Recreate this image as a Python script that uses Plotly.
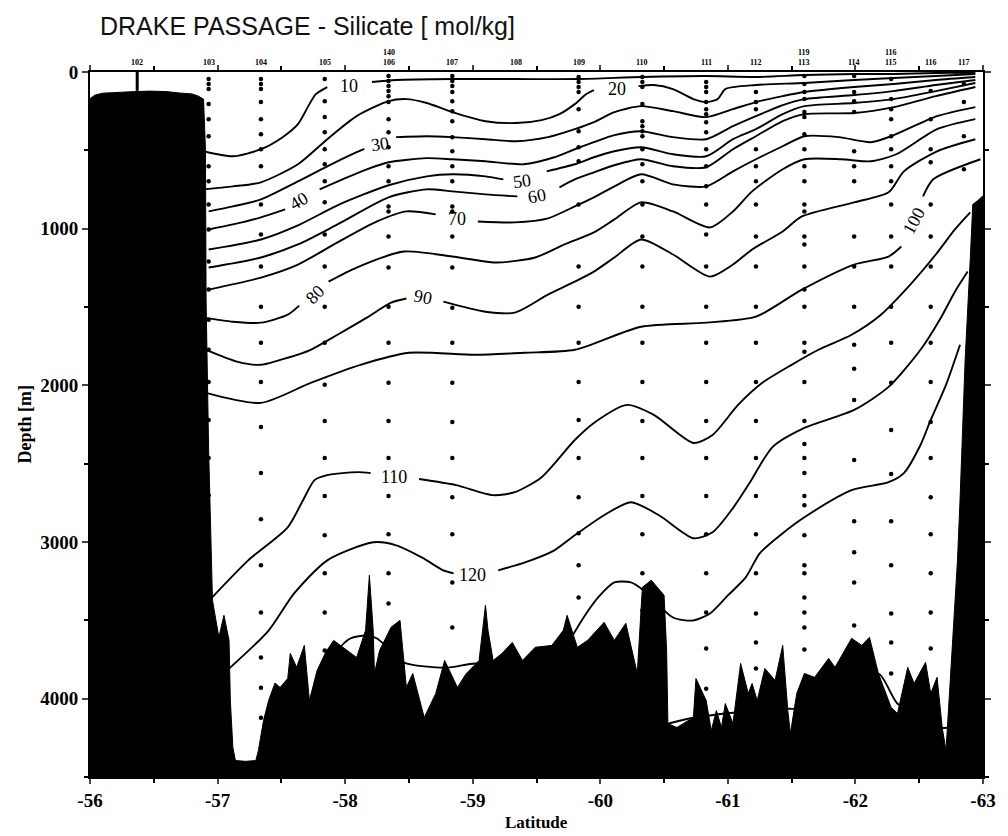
import plotly.graph_objects as go

# ---------------- axes ----------------
LAT_RANGE = [-56, -63]
DEPTH_RANGE = [4500, 0]
xtick_vals = [-56, -57, -58, -59, -60, -61, -62, -63]
xtick_text = ["-56", "-57", "-58", "-59", "-60", "-61", "-62", "-63"]
ytick_vals = [0, 1000, 2000, 3000, 4000]
ytick_text = ["0", "1000", "2000", "3000", "4000"]

# ---------------- bathymetry ----------------
bathy_lat = [-56.00, -56.04, -56.10, -56.23, -56.35, -56.47, -56.60, -56.70, -56.80, -56.85,
             -56.89, -56.905, -56.91, -56.93, -56.95, -56.96, -57.01, -57.05, -57.09, -57.10,
             -57.12, -57.14, -57.22, -57.30, -57.32, -57.36, -57.40, -57.45, -57.49, -57.55,
             -57.57, -57.62, -57.68, -57.72, -57.78, -57.85, -57.91, -58.02, -58.09, -58.16,
             -58.19, -58.22, -58.23, -58.27, -58.36, -58.43, -58.48, -58.53, -58.62, -58.71,
             -58.78, -58.88, -58.95, -59.05, -59.08, -59.10, -59.12, -59.16, -59.23, -59.31,
             -59.39, -59.49, -59.62, -59.71, -59.74, -59.78, -59.82, -59.90, -60.03, -60.11,
             -60.20, -60.29, -60.33, -60.40, -60.50, -60.52, -60.53, -60.60, -60.73, -60.75,
             -60.83, -60.87, -60.91, -60.95, -60.98, -61.04, -61.10, -61.16, -61.19, -61.23,
             -61.29, -61.37, -61.43, -61.47, -61.49, -61.54, -61.60, -61.68, -61.79, -61.84,
             -61.91, -61.97, -62.05, -62.11, -62.18, -62.28, -62.33, -62.41, -62.46, -62.55,
             -62.59, -62.64, -62.68, -62.71, -62.74, -62.77, -62.80, -62.82, -62.86, -62.90,
             -62.92, -62.96, -63.00]
bathy_depth = [170, 147, 135, 128, 125, 122, 125, 134, 140, 154,
               173, 493, 1452, 2412, 3116, 3372, 3608, 3468, 3628, 4012,
               4312, 4395, 4400, 4395, 4331, 4140, 4012, 3900, 3928, 3871,
               3711, 3800, 3660, 4012, 3820, 3700, 3628, 3692, 3737, 3564,
               3212, 3564, 3839, 3692, 3544, 3500, 3928, 3839, 4120, 3967,
               3756, 3928, 3839, 3756, 3564, 3404, 3564, 3756, 3711, 3641,
               3756, 3672, 3660, 3564, 3468, 3564, 3672, 3628, 3513, 3628,
               3519, 3839, 3289, 3244, 3340, 3692, 4159, 4184, 4120, 3871,
               4012, 4204, 4076, 4184, 4031, 4159, 3775, 3967, 3903, 4012,
               3807, 3884, 3660, 4076, 4223, 3967, 3839, 3864, 3743, 3800,
               3704, 3615, 3660, 3608, 3839, 4056, 4095, 3800, 3903, 3768,
               3967, 3864, 4184, 4331, 3928, 3544, 3116, 2732, 1836, 1196,
               845, 820, 790]

# ---------------- silicate contours (None = gap for label) ----------------
c10_lat = [-56.89, -57.12, -57.34, -57.51, -57.63, -57.72, -57.77, -57.86, None,
           -58.21, -58.40, -58.84, -59.33, -59.83, -60.33, -60.83, -61.22, -61.60, -61.99, -62.30, -62.63, -62.94]
c10_depth = [506, 538, 493, 416, 333, 205, 141, 96, None,
             64, 51, 45, 45, 45, 32, 26, 32, 19, 13, 13, 6, 6]

c20_lat = [-56.89, -57.12, -57.34, -57.63, -57.86, -58.09, -58.34, -58.48, -58.64, -58.84, -59.10, -59.34,
           -59.54, -59.68, -59.80, -59.89, -59.95, None,
           -60.30, -60.42, -60.57, -60.73, -60.83, -60.92, -60.98, -61.22, -61.60, -61.99, -62.30, -62.63, -62.94]
c20_depth = [749, 730, 704, 589, 429, 282, 186, 173, 198, 256, 314, 326,
             307, 269, 205, 141, 115, None,
             90, 83, 109, 173, 192, 173, 109, 83, 70, 51, 38, 26, 13]

c30_lat = [-56.93, -57.12, -57.34, -57.63, -57.86, -58.09, -58.15, None,
           -58.40, -58.64, -58.84, -59.10, -59.34, -59.59, -59.80, -59.95, -60.11, -60.32, -60.57, -60.83,
           -61.04, -61.22, -61.43, -61.60, -61.99, -62.30, -62.63, -62.94]
c30_depth = [890, 858, 813, 698, 602, 512, 490, None,
             416, 410, 416, 429, 442, 416, 365, 320, 256, 218, 250, 288,
             237, 192, 154, 128, 96, 77, 51, 32]

c40_lat = [-56.93, -57.12, -57.34, -57.53, None,
           -57.80, -57.98, -58.17, -58.34, -58.64, -58.84, -59.10, -59.40, -59.64, -59.80, -59.95, -60.11,
           -60.32, -60.57, -60.83, -61.04, -61.22, -61.43, -61.60, -61.99, -62.30, -62.63, -62.94]
c40_depth = [1005, 973, 928, 877, None,
             749, 685, 621, 576, 550, 557, 570, 589, 544, 493, 448, 403,
             378, 416, 429, 346, 282, 211, 173, 147, 122, 83, 51]

c50_lat = [-56.93, -57.34, -57.63, -57.94, -58.34, -58.64, -58.84, -59.10, -59.24, None,
           -59.58, -59.80, -59.95, -60.11, -60.32, -60.57, -60.83, -61.04, -61.22, -61.43, -61.60,
           -61.99, -62.30, -62.63, -62.94]
c50_depth = [1133, 1069, 979, 851, 723, 666, 653, 666, 685, None,
             634, 589, 544, 506, 480, 525, 538, 429, 365, 269, 218,
             198, 173, 122, 70]

c60_lat = [-56.93, -57.34, -57.63, -57.94, -58.34, -58.64, -58.84, -59.10, -59.35, None,
           -59.68, -59.80, -59.95, -60.11, -60.32, -60.57, -60.83, -61.04, -61.22, -61.43, -61.60,
           -61.99, -62.30, -62.63, -62.94]
c60_depth = [1248, 1184, 1101, 973, 800, 749, 762, 781, 794, None,
             736, 685, 640, 595, 557, 602, 608, 493, 410, 314, 269,
             262, 224, 154, 96]

c70_lat = [-56.93, -57.34, -57.63, -57.94, -58.25, -58.48, -58.71, None,
           -59.04, -59.33, -59.59, -59.80, -59.95, -60.11, -60.32, -60.57, -60.83, -61.04, -61.22,
           -61.43, -61.60, -61.87, -62.12, -62.28, -62.64, -62.94]
c70_depth = [1389, 1312, 1229, 1088, 954, 890, 909, None,
             954, 960, 934, 858, 800, 730, 653, 717, 730, 634, 557,
             474, 410, 416, 448, 410, 282, 224]

c80_lat = [-56.89, -57.12, -57.34, -57.55, -57.64, None,
           -57.87, -58.09, -58.46, -58.84, -59.18, -59.49, -59.72, -59.95, -60.11, -60.32, -60.57, -60.86,
           -61.04, -61.19, -61.43, -61.60, -61.89, -62.12, -62.32, -62.64, -62.94]
c80_depth = [1568, 1594, 1600, 1549, 1491, None,
             1338, 1248, 1146, 1178, 1216, 1184, 1101, 1024, 941, 832, 890, 992,
             890, 762, 621, 557, 557, 570, 525, 365, 301]

c90_lat = [-56.91, -57.16, -57.34, -57.55, -57.73, -57.94, -58.17, -58.36, -58.48, None,
           -58.77, -59.10, -59.33, -59.59, -59.80, -59.95, -60.11, -60.32, -60.57, -60.86, -61.04,
           -61.19, -61.43, -61.58, -61.99, -62.26, -62.38, -62.64, -62.94]
c90_depth = [1773, 1850, 1869, 1824, 1773, 1677, 1568, 1472, 1446, None,
             1466, 1530, 1536, 1421, 1338, 1274, 1184, 1069, 1165, 1306, 1229,
             1133, 1018, 922, 832, 768, 634, 506, 429]

c100_lat = [-56.91, -57.34, -57.73, -58.12, -58.50, -59.02, -59.41, -59.80, -60.32, -60.83, -61.22,
            -61.58, -61.99, -62.26, -62.36, None, -62.53, -62.61, -62.98]
c100_depth = [2048, 2112, 1984, 1869, 1792, 1805, 1792, 1773, 1626, 1600, 1562,
              1389, 1229, 1178, 1114, None, 794, 685, 557]

c110_lat = [-56.95, -57.24, -57.55, -57.67, -57.76, -57.86, -58.10, -58.20, None,
            -58.58, -58.87, -59.16, -59.33, -59.54, -59.80, -59.95, -60.21, -60.42, -60.73, -60.88,
            -61.08, -61.27, -61.50, -61.71, -61.97, -62.20, -62.43, -62.63, -62.78, -62.90]
c110_depth = [3360, 3117, 2906, 2733, 2605, 2573, 2554, 2560, None,
              2598, 2637, 2701, 2682, 2586, 2349, 2240, 2125, 2189, 2368, 2317,
              2125, 1984, 1869, 1773, 1677, 1549, 1357, 1165, 1005, 896]

c120_lat = [-57.09, -57.40, -57.60, -57.86, -58.22, -58.40, -58.60, -58.77, -58.85, None,
            -59.20, -59.41, -59.64, -59.80, -60.03, -60.24, -60.46, -60.73, -60.88, -61.04, -61.17,
            -61.35, -61.60, -61.99, -62.26, -62.51, -62.67, -62.78, -62.88]
c120_depth = [3808, 3565, 3328, 3117, 3002, 3021, 3098, 3181, 3200, None,
              3181, 3130, 3053, 2957, 2829, 2746, 2829, 2976, 2938, 2784, 2624,
              2394, 2272, 2157, 2010, 1773, 1568, 1402, 1274]

c130_lat = [-57.86, -57.94, -58.04, -58.17, -58.25, -58.33, -58.46, -58.79, -59.02, -59.33, -59.64,
            -59.76, -59.89, -59.99, -60.11, -60.24, -60.34, -60.57, -60.73, -60.86, -61.00, -61.14,
            -61.25, -61.43, -61.60, -61.97, -62.26, -62.38, -62.51, -62.59, -62.71, -62.82]
c130_depth = [3808, 3693, 3616, 3597, 3616, 3674, 3770, 3802, 3776, 3808, 3808,
              3629, 3456, 3347, 3258, 3258, 3309, 3482, 3501, 3456, 3341, 3226,
              3072, 2944, 2842, 2669, 2618, 2560, 2381, 2221, 1997, 1741]

c140_lat = [-60.53, -60.73, -61.04, -61.45, -61.53, -61.74, -61.97, -62.18, -62.33, -62.51, -62.64, -62.72]
c140_depth = [4160, 4122, 4090, 4064, 4064, 4013, 3949, 3840, 4032, 4109, 4186, 4186]

# ---------------- contour labels ----------------
clabel_text = ["10", "20", "30", "40", "50", "60", "70", "80", "90", "100", "110", "120"]
clabel_lat = [-58.03, -60.13, -58.27, -57.64, -59.39, -59.50, -58.88, -57.76, -58.61, -62.46, -58.38, -59.00]
clabel_depth = [90, 109, 461, 826, 698, 794, 941, 1421, 1434, 954, 2586, 3213]
clabel_angle = [0, 0, -8, -30, -8, -10, 0, -45, 10, -62, 0, 0]

# ---------------- stations ----------------
station_lat = [-56.37, -56.93, -57.34, -57.84, -58.34, -58.84, -59.34, -59.83,
               -60.33, -60.83, -61.22, -61.60, -61.99, -62.28, -62.59, -62.85]
station_text = ["102", "103", "104", "105", "106", "107", "108", "109",
                "110", "111", "112", "113", "114", "115", "116", "117"]
upper_label_lat = [-58.34, -61.60, -62.28]
upper_label_text = ["140", "119", "116"]

st102_depth = [0, 120]
st103_depth = [45, 77, 109, 205, 301, 410, 602, 698, 845, 1005, 1210, 1389, 1581, 1773, 1978, 2221, 2464, 2701, 3008]
st104_depth = [45, 77, 109, 192, 301, 397, 493, 602, 845, 1037, 1242, 1498, 1728, 1978, 2266, 2560, 2854, 3149,
               3450, 3738, 3930, 4122]
st105_depth = [45, 186, 288, 384, 493, 589, 698, 832, 1037, 1242, 1498, 1728, 1997, 2227, 2464, 2707, 2957, 3200,
               3450, 3693]
st106_depth = [26, 58, 90, 122, 154, 192, 301, 384, 480, 602, 698, 858, 890, 1050, 1248, 1498, 1728, 1984, 2227,
               2464, 2707, 2950, 3200, 3392]
st107_depth = [26, 58, 90, 128, 186, 250, 314, 416, 506, 602, 698, 858, 890, 1050, 1248, 1504, 1728, 1984, 2234,
               2464, 2714, 2950, 3258, 3546]
st108_depth = []
st109_depth = [32, 64, 96, 128, 237, 378, 480, 570, 845, 1242, 1498, 1728, 1978, 2221, 2464, 2714, 2944, 3149, 3354]
st110_depth = [32, 64, 96, 205, 314, 346, 378, 410, 493, 589, 698, 845, 1050, 1242, 1498, 1728, 1978, 2227, 2464,
               2707, 2950, 3200, 3437, 3629]
st111_depth = [64, 96, 128, 192, 237, 269, 320, 384, 493, 602, 730, 845, 1037, 1242, 1498, 1728, 1978, 2227, 2464,
               2707, 2950, 3200, 3450, 3680, 3936]
st112_depth = [128, 192, 237, 493, 602, 698, 845, 1050, 1242, 1498, 1728, 1978, 2227, 2464, 2707, 2950, 3200, 3456,
               3642, 3808]
st113_depth = [26, 77, 128, 173, 256, 288, 397, 493, 602, 698, 845, 890, 1050, 1101, 1242, 1389, 1498, 1728, 1786,
               1978, 2227, 2374, 2464, 2560, 2707, 2765, 2957, 3149, 3200, 3354, 3450, 3546, 3686]
st114_depth = [26, 128, 186, 256, 506, 602, 698, 1050, 1242, 1498, 1741, 1894, 2093, 2477, 2867, 3066, 3258, 3533]
st115_depth = [45, 173, 237, 301, 410, 493, 602, 698, 845, 1050, 1242, 1498, 1728, 1984, 2285, 2566, 2867, 3149,
               3456, 3642, 3840]
st116_depth = [122, 301, 493, 576, 845, 1050, 1242, 1498, 1728, 1978, 2234, 2464, 2714, 2950, 3200, 3450, 3680]
st117_depth = [77, 192, 410, 621]

# ---------------- figure ----------------
SERIF = "Liberation Serif"
fig = go.Figure()

contour_lines = [(c10_lat, c10_depth), (c20_lat, c20_depth), (c30_lat, c30_depth), (c40_lat, c40_depth),
                 (c50_lat, c50_depth), (c60_lat, c60_depth), (c70_lat, c70_depth), (c80_lat, c80_depth),
                 (c90_lat, c90_depth), (c100_lat, c100_depth), (c110_lat, c110_depth), (c120_lat, c120_depth),
                 (c130_lat, c130_depth), (c140_lat, c140_depth)]
for lat, dep in contour_lines:
    fig.add_trace(go.Scatter(x=lat, y=dep, mode="lines", connectgaps=False,
                             line=dict(color="black", width=1.9, shape="spline", smoothing=0.7),
                             hoverinfo="skip", showlegend=False))

station_depths = [st102_depth, st103_depth, st104_depth, st105_depth, st106_depth, st107_depth, st108_depth,
                  st109_depth, st110_depth, st111_depth, st112_depth, st113_depth, st114_depth, st115_depth,
                  st116_depth, st117_depth]
for lat, deps in zip(station_lat[1:], station_depths[1:]):
    if not deps:
        continue
    fig.add_trace(go.Scatter(x=[lat] * len(deps), y=deps, mode="markers",
                             marker=dict(size=4.5, color="black"), hoverinfo="skip", showlegend=False))
# station 102: short cast on the shelf
fig.add_trace(go.Scatter(x=[station_lat[0]] * len(st102_depth), y=st102_depth, mode="lines",
                         line=dict(color="black", width=3), hoverinfo="skip", showlegend=False))

# bathymetry (filled to the bottom of the section)
fig.add_trace(go.Scatter(x=bathy_lat + [LAT_RANGE[1], LAT_RANGE[0]],
                         y=bathy_depth + [DEPTH_RANGE[0], DEPTH_RANGE[0]],
                         mode="lines", fill="toself", fillcolor="black",
                         line=dict(color="black", width=1), hoverinfo="skip", showlegend=False))

annotations = []
for t, la, d, a in zip(clabel_text, clabel_lat, clabel_depth, clabel_angle):
    annotations.append(dict(x=la, y=d, xref="x", yref="y", text=t, showarrow=False, textangle=a,
                            font=dict(family=SERIF, size=18, color="black")))
for la, t in zip(station_lat, station_text):
    annotations.append(dict(x=la, y=0, xref="x", yref="y", text=t, showarrow=False, yanchor="bottom",
                            yshift=3, font=dict(family=SERIF, size=8, color="#000000", weight="bold")))
for la, t in zip(upper_label_lat, upper_label_text):
    annotations.append(dict(x=la, y=0, xref="x", yref="y", text=t, showarrow=False, yanchor="bottom",
                            yshift=13, font=dict(family=SERIF, size=8, color="#000000", weight="bold")))
annotations.append(dict(x=0.5, y=0, xref="paper", yref="paper", text="Latitude", showarrow=False,
                        yanchor="top", yshift=-34,
                        font=dict(family=SERIF, size=17, color="black", weight="bold")))
annotations.append(dict(x=0, y=0.50, xref="paper", yref="paper", text="Depth [m]", showarrow=False,
                        textangle=-90, xanchor="center", xshift=-66,
                        font=dict(family=SERIF, size=18, color="black", weight="bold")))

axis_font = dict(family=SERIF, size=19, color="black", weight="bold")
fig.update_layout(
    width=1008, height=836,
    margin=dict(l=90, r=15, t=72, b=59),
    paper_bgcolor="white", plot_bgcolor="white",
    title=dict(text="DRAKE PASSAGE - Silicate [ mol/kg]", x=100 / 1008, xanchor="left", xref="container",
               y=1 - 26 / 836, yref="container", yanchor="middle",
               font=dict(family="Liberation Sans", size=25, color="#111111")),
    xaxis=dict(range=LAT_RANGE, tickvals=xtick_vals, ticktext=xtick_text, ticks="outside", ticklen=5,
               tickwidth=2, showline=True, linewidth=2, linecolor="black", mirror="ticks",
               showgrid=False, zeroline=False, tickfont=axis_font,
               minor=dict(dtick=0.5, tick0=-56, ticks="outside", ticklen=4, tickwidth=2, tickcolor="black")),
    yaxis=dict(range=DEPTH_RANGE, tickvals=ytick_vals, ticktext=ytick_text, ticks="outside", ticklen=6,
               tickwidth=2, showline=True, linewidth=2, linecolor="black", mirror="ticks",
               showgrid=False, zeroline=False, tickfont=axis_font,
               minor=dict(dtick=500, tick0=0, ticks="outside", ticklen=4, tickwidth=2, tickcolor="black")),
    annotations=annotations,
    showlegend=False,
)

fig.write_html("out.html")
